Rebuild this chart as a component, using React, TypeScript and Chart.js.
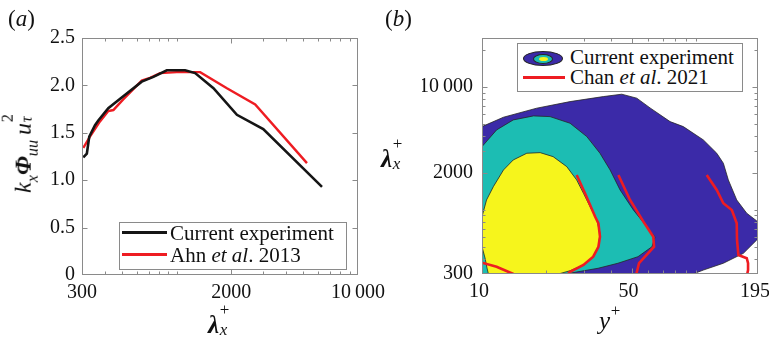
import React, { useEffect, useRef } from "react";
import { Chart, registerables } from "chart.js";

Chart.register(...registerables);

const SERIF = '"Liberation Serif", "DejaVu Serif", serif';

// ---------- (a) premultiplied streamwise spectrum ----------
const lambdaCurrent = [305, 319, 329, 354, 369, 419, 487, 641, 743, 881, 1112, 1263, 1594, 2147, 3000, 6330];
const spectrumCurrent = [1.24, 1.28, 1.46, 1.58, 1.63, 1.76, 1.86, 2.04, 2.09, 2.16, 2.16, 2.13, 1.97, 1.69, 1.54, 0.93];
const lambdaAhn = [305, 332, 377, 419, 447, 505, 641, 712, 809, 1001, 1346, 1891, 2709, 5229];
const spectrumAhn = [1.34, 1.46, 1.62, 1.73, 1.74, 1.85, 2.05, 2.08, 2.13, 2.14, 2.14, 1.97, 1.8, 1.18];

const aTicksX = [300, 2000, 10000];
const aTickLabelsX = ["300", "2000", "10\u2009000"];
const aMinorX = [400, 500, 600, 700, 800, 900, 1000, 3000, 4000, 5000, 6000, 7000, 8000, 9000];
const aTicksY = [0, 0.5, 1, 1.5, 2, 2.5];
const aTickLabelsY = ["0", "0.5", "1.0", "1.5", "2.0", "2.5"];

// ---------- (b) spectrogram contours in (y+, lambda_x+) ----------
const outerYPlus = [9.2, 9.2, 10, 12.6, 18.0, 25.8, 36.9, 45.0, 52.9, 61.0, 75.7, 87.3, 108.3, 125.1, 134.3, 141.7, 155.1, 172.8, 192.4, 210, 210, 192.4, 166.6, 134.3, 108.3, 93.9, 84.3];
const outerLambda = [265, 4750, 4750, 5664, 6706, 7590, 8340, 8720, 8090, 6745, 5217, 4750, 3702, 2884, 2391, 1749, 1202, 936, 811, 738, 589, 568, 442, 367, 323, 294, 265];

const middleYPlus = [9.2, 9.2, 10, 11.7, 14.0, 17.4, 20.8, 25.8, 30.9, 35.6, 39.7, 44.2, 51.0, 58.9, 64.4, 62.3, 53.6, 43.2, 34.9, 28.1, 23.2, 21.9];
const middleLambda = [265, 3265, 3265, 4464, 5385, 5805, 5729, 5061, 3939, 2884, 2108, 1449, 996, 728, 600, 500, 415, 367, 334, 313, 294, 265];

const innerYPlus = [9.2, 10, 10.5, 11.3, 12.6, 14.0, 16.2, 18.7, 21.5, 24.9, 27.7, 29.8, 32.0, 34.4, 35.6, 35.0, 33.1, 29.8, 25.8, 22.3, 20.8, 10.9, 10.55, 10.33, 10, 9.2];
const innerLambda = [878, 878, 1202, 1542, 2108, 2544, 2884, 2917, 2706, 2243, 1749, 1363, 1060, 826, 644, 500, 415, 355, 319, 297, 265, 265, 336, 405, 500, 500];

const chan1YPlus = [9.6, 10, 11.7, 14.0, 14.4];
const chan1Lambda = [378, 371, 344, 300, 289];
const chan2YPlus = [27.7, 30.3, 33.8, 35.0, 35.6, 35.0, 33.1, 29.8, 25.8, 24.9];
const chan2Lambda = [1920, 1363, 878, 776, 604, 500, 415, 355, 313, 294];
const chan3YPlus = [43.4, 49.2, 56.8, 63.2, 63.7, 57.8, 54.2, 52.5];
const chan3Lambda = [1920, 1202, 800, 604, 500, 415, 367, 294];
const chan4YPlus = [112.3, 125.1, 134.3, 147.1, 155.1, 155.6, 157.9, 172.8, 175.2, 175.2, 173.3];
const chan4Lambda = [1920, 1449, 1129, 996, 776, 568, 428, 403, 367, 323, 294];

const bTicksX = [10, 50, 195];
const bTickLabelsX = ["10", "50", "195"];
const bMinorX = [20, 30, 40, 60, 70, 80, 90, 100];
const bTicksY = [300, 2000, 10000];
const bTickLabelsY = ["300", "2000", "10\u2009000"];
const bMinorY = [400, 500, 600, 700, 800, 900, 1000, 3000, 4000, 5000, 6000, 7000, 8000, 9000, 20000];

const RED = "#ee1c22";
const BLUE = "#3b2aa8";
const TEAL = "#1cbdb3";
const YELLOW = "#f6f51c";
const FRAME = "#8a8a8a";

const pts = (xs: number[], ys: number[]) => xs.map((x, i) => ({ x, y: ys[i] }));

// Box frame with inward major/minor tick marks on all four sides
function framePlugin(minorX: number[], minorY: number[]) {
  return {
    id: "frameTicks",
    afterDatasetsDraw(chart: any) {
      const { ctx, chartArea: a } = chart;
      const xs = chart.scales.x;
      const ys = chart.scales.y;
      const L = Math.round(a.left) + 0.5;
      const R = Math.round(a.right) - 0.5;
      const T = Math.round(a.top) + 0.5;
      const B = Math.round(a.bottom) - 0.5;
      ctx.save();
      ctx.strokeStyle = FRAME;
      ctx.lineWidth = 1;
      ctx.beginPath();
      const xMark = (v: number, len: number) => {
        const p = Math.round(xs.getPixelForValue(v)) + 0.5;
        if (p <= L + 1 || p >= R - 1) return;
        ctx.moveTo(p, B);
        ctx.lineTo(p, B - len);
        ctx.moveTo(p, T);
        ctx.lineTo(p, T + len);
      };
      const yMark = (v: number, len: number) => {
        const p = Math.round(ys.getPixelForValue(v)) + 0.5;
        if (p <= T + 1 || p >= B - 1) return;
        ctx.moveTo(L, p);
        ctx.lineTo(L + len, p);
        ctx.moveTo(R, p);
        ctx.lineTo(R - len, p);
      };
      xs.ticks.forEach((t: any) => xMark(t.value, 5));
      minorX.forEach((v) => xMark(v, 3));
      ys.ticks.forEach((t: any) => yMark(t.value, 5));
      minorY.forEach((v) => yMark(v, 3));
      ctx.stroke();
      ctx.strokeRect(L, T, R - L, B - T);
      ctx.restore();
    },
  };
}

function axis(
  type: string,
  min: number,
  max: number,
  ticks: number[],
  labels: string[],
  size: number,
  padding: number,
  isX: boolean,
  labelOffset = 0
) {
  return {
    type,
    min,
    max,
    afterBuildTicks: (s: any) => {
      s.ticks = ticks.map((value) => ({ value }));
    },
    afterFit: (s: any) => {
      if (isX) s.height = size;
      else s.width = size;
    },
    grid: { display: false, drawTicks: false },
    border: { display: false },
    ticks: {
      autoSkip: false,
      maxRotation: 0,
      minRotation: 0,
      padding,
      labelOffset,
      color: "#111",
      font: { family: SERIF, size: 20 },
      callback: (_v: any, i: number) => labels[i],
    },
  };
}

const Sub = ({ children }: { children: any }) => (
  <span style={{ fontSize: "0.68em", verticalAlign: "-0.45em" }}>{children}</span>
);

// scripts placed beside the base glyph without changing the line box;
// f is the base font size in px
const Scripts = ({ sup, sub, f, w = 0.42 }: { sup?: any; sub?: any; f: number; w?: number }) => (
  <span style={{ position: "relative", display: "inline-block", width: w * f }}>
    {"\u200b"}
    {sup != null && (
      <span
        style={{
          position: "absolute",
          left: 0.03 * f,
          top: (sub != null ? -0.45 : -0.24) * f,
          fontSize: 0.68 * f,
          lineHeight: 1,
        }}
      >
        {sup}
      </span>
    )}
    {sub != null && (
      <span style={{ position: "absolute", left: 0.03 * f, top: 0.34 * f, fontSize: 0.68 * f, lineHeight: 1 }}>
        {sub}
      </span>
    )}
  </span>
);

const abs = (extra: any) => ({ position: "absolute" as const, whiteSpace: "nowrap" as const, lineHeight: 1, ...extra });

export default function App() {
  const refA = useRef<HTMLCanvasElement>(null);
  const refB = useRef<HTMLCanvasElement>(null);

  useEffect(() => {
    const chartA = new Chart(refA.current as HTMLCanvasElement, {
      type: "line",
      data: {
        datasets: [
          {
            label: "Current experiment",
            data: pts(lambdaCurrent, spectrumCurrent),
            borderColor: "#151515",
            borderWidth: 2.6,
            pointRadius: 0,
            tension: 0,
            fill: false,
          },
          {
            label: "Ahn et al. 2013",
            data: pts(lambdaAhn, spectrumAhn),
            borderColor: RED,
            borderWidth: 2.4,
            pointRadius: 0,
            tension: 0,
            fill: false,
          },
        ],
      },
      options: {
        animation: false,
        responsive: false,
        devicePixelRatio: 1,
        layout: { padding: { left: 42, right: 62, top: 38, bottom: 34 } },
        plugins: { legend: { display: false }, tooltip: { enabled: false } },
        scales: {
          x: axis("logarithmic", 300, 10000, aTicksX, aTickLabelsX, 30, 6, true),
          y: axis("linear", 0, 2.5, aTicksY, aTickLabelsY, 40, 7, false),
        },
      } as any,
      plugins: [framePlugin(aMinorX, [])],
    });

    const redLine = (xs: number[], ys: number[]) => ({
      label: "Chan et al. 2021",
      data: pts(xs, ys),
      borderColor: RED,
      borderWidth: 2.6,
      pointRadius: 0,
      tension: 0,
      fill: false,
      order: 0,
    });
    const region = (xs: number[], ys: number[], color: string, order: number) => ({
      label: "Current experiment",
      data: pts(xs, ys),
      borderColor: "#262626",
      borderWidth: 0.8,
      backgroundColor: color,
      pointRadius: 0,
      tension: 0,
      fill: "shape",
      order,
    });

    const chartB = new Chart(refB.current as HTMLCanvasElement, {
      type: "line",
      data: {
        datasets: [
          redLine(chan1YPlus, chan1Lambda),
          redLine(chan2YPlus, chan2Lambda),
          redLine(chan3YPlus, chan3Lambda),
          redLine(chan4YPlus, chan4Lambda),
          region(innerYPlus, innerLambda, YELLOW, 1),
          region(middleYPlus, middleLambda, TEAL, 2),
          region(outerYPlus, outerLambda, BLUE, 3),
        ],
      } as any,
      options: {
        animation: false,
        responsive: false,
        devicePixelRatio: 1,
        layout: { padding: { left: 42, right: 42, top: 38, bottom: 35 } },
        plugins: { legend: { display: false }, tooltip: { enabled: false } },
        scales: {
          x: axis("logarithmic", 10, 195, bTicksX, bTickLabelsX, 30, 6, true, -3),
          y: axis("logarithmic", 300, 25000, bTicksY, bTickLabelsY, 60, 9, false),
        },
      } as any,
      plugins: [framePlugin(bMinorX, bMinorY)],
    });

    return () => {
      chartA.destroy();
      chartB.destroy();
    };
  }, []);

  const legendText = { fontSize: 21, color: "#111" };

  return (
    <div
      style={{
        position: "fixed",
        left: 0,
        top: 0,
        width: 769,
        height: 339,
        background: "#fff",
        overflow: "hidden",
        fontFamily: SERIF,
        color: "#111",
      }}
    >
      <canvas ref={refA} width={420} height={339} style={{ position: "absolute", left: 0, top: 0 }} />
      <canvas ref={refB} width={420} height={339} style={{ position: "absolute", left: 380, top: 0 }} />

      {/* panel tags */}
      <div style={abs({ left: 8, top: 7, fontSize: 23 })}>
        (<i>a</i>)
      </div>
      <div style={abs({ left: 385, top: 7, fontSize: 23 })}>
        (<i>b</i>)
      </div>

      {/* (a) axis titles */}
      <div
        style={abs({
          left: 26,
          top: 153,
          fontSize: 24,
          transform: "translate(-50%, -50%) rotate(-90deg)",
        })}
      >
        <i>k</i>
        <Sub>
          <i>x</i>
        </Sub>
        <b>
          <i>Φ</i>
        </b>
        <Sub>
          <i>uu</i>
        </Sub>
        {"\u2009"}
        <i>u</i>
        <Scripts f={24} sup="2" sub={<i>τ</i>} />
      </div>
      <div style={abs({ left: 208, top: 312, fontSize: 25 })}>
        <b>
          <i>λ</i>
        </b>
        <Scripts f={25} sup="+" sub={<i>x</i>} />
      </div>

      {/* (a) legend */}
      <div
        style={abs({
          left: 119,
          top: 222,
          width: 226,
          height: 46,
          border: `1px solid ${FRAME}`,
          background: "#fff",
        })}
      />
      <div style={abs({ left: 122, top: 230.5, width: 45, height: 3, background: "#151515" })} />
      <div style={abs({ left: 122, top: 252.5, width: 45, height: 3, background: RED })} />
      <div style={abs({ left: 170, top: 222.5, ...legendText })}>Current experiment</div>
      <div style={abs({ left: 170, top: 244.5, ...legendText })}>
        Ahn <i>et al</i>. 2013
      </div>

      {/* (b) axis titles */}
      <div style={abs({ left: 381, top: 146, fontSize: 25 })}>
        <b>
          <i>λ</i>
        </b>
        <Scripts f={25} sup="+" sub={<i>x</i>} />
      </div>
      <div style={abs({ left: 599, top: 308, fontSize: 25 })}>
        <i>y</i>
        <Scripts f={25} sup="+" />
      </div>

      {/* (b) legend */}
      <div
        style={abs({
          left: 517,
          top: 43,
          width: 224,
          height: 47,
          border: `1px solid ${FRAME}`,
          background: "#fff",
        })}
      />
      <div
        style={abs({
          left: 523,
          top: 51,
          width: 40,
          height: 15,
          borderRadius: "50%",
          background: BLUE,
          boxSizing: "border-box",
          border: "0.8px solid #262626",
        })}
      />
      <div
        style={abs({
          left: 533,
          top: 53.5,
          width: 20,
          height: 10,
          borderRadius: "50%",
          background: TEAL,
          boxSizing: "border-box",
          border: "0.8px solid #262626",
        })}
      />
      <div
        style={abs({
          left: 538.5,
          top: 56.5,
          width: 9,
          height: 4,
          borderRadius: "50%",
          background: YELLOW,
        })}
      />
      <div style={abs({ left: 523, top: 75.5, width: 42, height: 3, background: RED })} />
      <div style={abs({ left: 570, top: 46.5, ...legendText })}>Current experiment</div>
      <div style={abs({ left: 570, top: 66.5, ...legendText })}>
        Chan <i>et al</i>. 2021
      </div>
    </div>
  );
}
